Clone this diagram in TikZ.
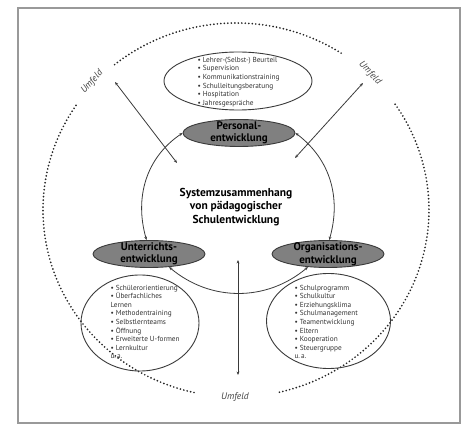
\documentclass[tikz,border=0pt]{standalone}
\usepackage{fontspec}
\setmainfont{PT Sans}
\usetikzlibrary{shapes.geometric,arrows.meta}
\definecolor{ellgray}{HTML}{808080}
\definecolor{linegray}{HTML}{3A3A3A}
\definecolor{framegray}{HTML}{999999}
\begin{document}
\begin{tikzpicture}[x=1pt,y=1pt,
  field/.style={ellipse, draw=linegray, line width=0.9pt, inner sep=0pt},
  areabox/.style={field, fill=ellgray, minimum width=112, minimum height=27},
  areatext/.style={align=center, font=\fontsize{11}{12.5}\selectfont\bfseries},
  listtext/.style={anchor=west, align=left, text=black!80, font=\fontsize{7.3}{8.6}\selectfont},
  umfeld/.style={font=\fontsize{9.5}{10}\selectfont\itshape, text=black!75},
  link/.style={draw=linegray, line width=0.8pt, {Stealth[length=3.5pt,width=2.8pt]}-{Stealth[length=3.5pt,width=2.8pt]}},
  boundary/.style={draw=black!85, line width=1.9pt, line cap=round, dash pattern=on 0pt off 3.5pt}]

  \useasboundingbox (0,0) rectangle (474,431);
  \draw[framegray, line width=1.1pt] (18,8) rectangle (460,423);

  % Umfeld ring
  \coordinate (M) at (236,221);
  \draw[boundary] (M) ++(57:193 and 187) arc[start angle=57, end angle=130, x radius=193, y radius=187];
  \draw[boundary] (M) ++(146:193 and 187) arc[start angle=146, end angle=257.5, x radius=193, y radius=187];
  \draw[boundary] (M) ++(-77:193 and 187) arc[start angle=-77, end angle=34.6, x radius=193, y radius=187];
  \node[umfeld, rotate=48] (umf1) at (92,349) {Umfeld};
  \node[umfeld, rotate=-46] (umf2) at (370,358) {Umfeld};
  \node[umfeld] (umf3) at (235,34) {Umfeld};

  % fields
  \node[areabox] (pers) at (239,298) {};
  \node[areatext] at (pers) {Personal-\\entwicklung};
  \node[areabox] (unt) at (149,177) {};
  \node[areatext] at (unt) {Unterrichts-\\entwicklung};
  \node[areabox] (org) at (328,177) {};
  \node[areatext] at (org) {Organisations-\\entwicklung};

  \node[font=\fontsize{11.5}{13.3}\selectfont\bfseries, align=center] (sys) at (236,224)
    {Systemzusammenhang\\von pädagogischer\\Schulentwicklung};

  % lists
  \node[field, minimum width=148, minimum height=58] (perslist) at (238,350) {};
  \node[listtext] at (194,349) {• Lehrer-(Selbst-) Beurteil\\• Supervision\\• Kommunikationstraining\\
    • Schulleitungsberatung\\• Hospitation\\• Jahresgespräche};
  \node[field, minimum width=118, minimum height=96] (untlist) at (140,108) {};
  \node[listtext] at (107,109) {• Schülerorientierung\\• Überfachliches\\Lernen\\• Methodentraining\\
    • Selbstlernteams\\• Öffnung\\• Erweiterte U-formen\\• Lernkultur\\u.\,a.};
  \node[field, minimum width=124, minimum height=95] (orglist) at (328.5,110) {};
  \node[listtext] at (291,109) {• Schulprogramm\\• Schulkultur\\• Erziehungsklima\\• Schulmanagement\\
    • Teamentwicklung\\• Eltern\\• Kooperation\\• Steuergruppe\\u.\,a.};

  % cycle
  \draw[link] (pers.west) to[out=214,in=106] (unt.100);
  \draw[link] (pers.east) to[out=-37,in=74] (org.85);
  \draw[link] (unt.-33) to[out=-40,in=220] (org.-147);

  % arrows to the Umfeld
  \coordinate (ul1) at (115,349);
  \coordinate (ul2) at (177,268);
  \coordinate (ur1) at (363,348);
  \coordinate (ur2) at (295,273);
  \coordinate (dn1) at (238,171);
  \coordinate (dn2) at (238,56);
  \draw[link] (ul1) -- (ul2);
  \draw[link] (ur1) -- (ur2);
  \draw[link] (dn1) -- (dn2);
\end{tikzpicture}
\end{document}
